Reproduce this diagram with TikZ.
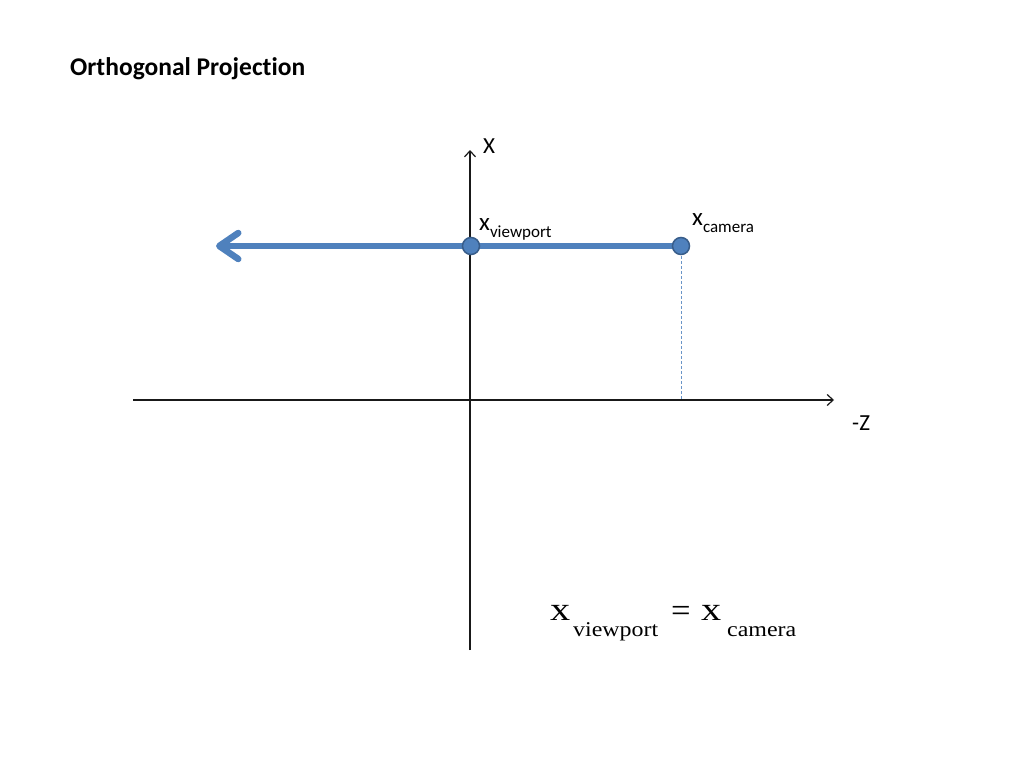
\documentclass[tikz,border=0pt]{standalone}
\usepackage{graphicx}
\usepackage{fontspec}
\setmainfont[Ligatures=NoCommon]{Carlito}
\newfontfamily\eqfamily{Liberation Serif}
\usetikzlibrary{arrows.meta}
\definecolor{pptblue}{HTML}{4F81BD}
\definecolor{pptborder}{HTML}{385D8A}
\tikzset{
  axis/.style={line width=1.4pt, draw=black!90, -{Straight Barb[length=6pt,width=11pt,line width=1.2pt]}},
  bluearrow/.style={line width=6.5pt, draw=pptblue, line cap=round,
     -{Straight Barb[length=19pt,width=26pt,line cap=round,line join=round]}},
  dot/.style={circle, fill=pptblue, draw=pptborder, line width=1.5pt, minimum size=17pt, inner sep=0pt},
  guide/.style={draw=pptblue!85, line width=0.9pt, dash pattern=on 3pt off 2pt},
  lbl/.style={anchor=base west, inner sep=0pt, font=\fontsize{23}{26}\selectfont},
  ptlbl/.style={anchor=base west, inner sep=0pt, font=\fontsize{25}{28}\selectfont},
  eqbig/.style={anchor=base west, inner sep=0pt, font=\eqfamily\fontsize{33}{35}\selectfont},
  eqsub/.style={anchor=base west, inner sep=0pt, font=\eqfamily\fontsize{21}{23}\selectfont},
}
\newcommand{\mysub}[1]{\raisebox{-7pt}{\fontsize{17}{19}\selectfont #1}}
\newcommand{\wide}[2]{\scalebox{#1}[1]{#2}}
\begin{document}
\begin{tikzpicture}[x=1pt,y=-1pt]
\useasboundingbox (0,0) rectangle (1024,768);
% title
\node[anchor=base west, inner sep=0pt, font=\bfseries\fontsize{25.5}{28}\selectfont] (title) at (70,75) {Orthogonal Projection};
% axes
\coordinate (ytop) at (470,150);
\coordinate (ybot) at (470,650);
\coordinate (xl) at (133,400);
\coordinate (xr) at (834,400);
\draw[axis] (ybot) -- (ytop);
\draw[axis] (xl) -- (xr);
\node[lbl] (xlab) at (483,153) {X};
\node[lbl] (zlab) at (852,430) {-Z};
% projection
\coordinate (vpc) at (471,246);
\coordinate (camc) at (681,246);
\coordinate (tip) at (216,246);
\coordinate (foot) at (681,400);
\draw[guide] (camc) -- (foot);
\draw[bluearrow] (camc) -- (tip);
\node[dot] (vp) at (vpc) {};
\node[dot] (cam) at (camc) {};
\node[ptlbl] (vplab) at (479,230) {x\mysub{viewport}};
\node[ptlbl] (camlab) at (692,225) {x\mysub{camera}};
% equation
\node[eqbig] (e1) at (550,620) {\wide{1.22}{x}};
\node[eqsub] (e2) at (573,636) {\wide{1.14}{viewport}};
\node[eqbig] (e3) at (671,621) {\wide{1.05}{=}};
\node[eqbig] (e4) at (701,620) {\wide{1.22}{x}};
\node[eqsub] (e5) at (727,636) {\wide{1.14}{camera}};
\end{tikzpicture}
\end{document}
